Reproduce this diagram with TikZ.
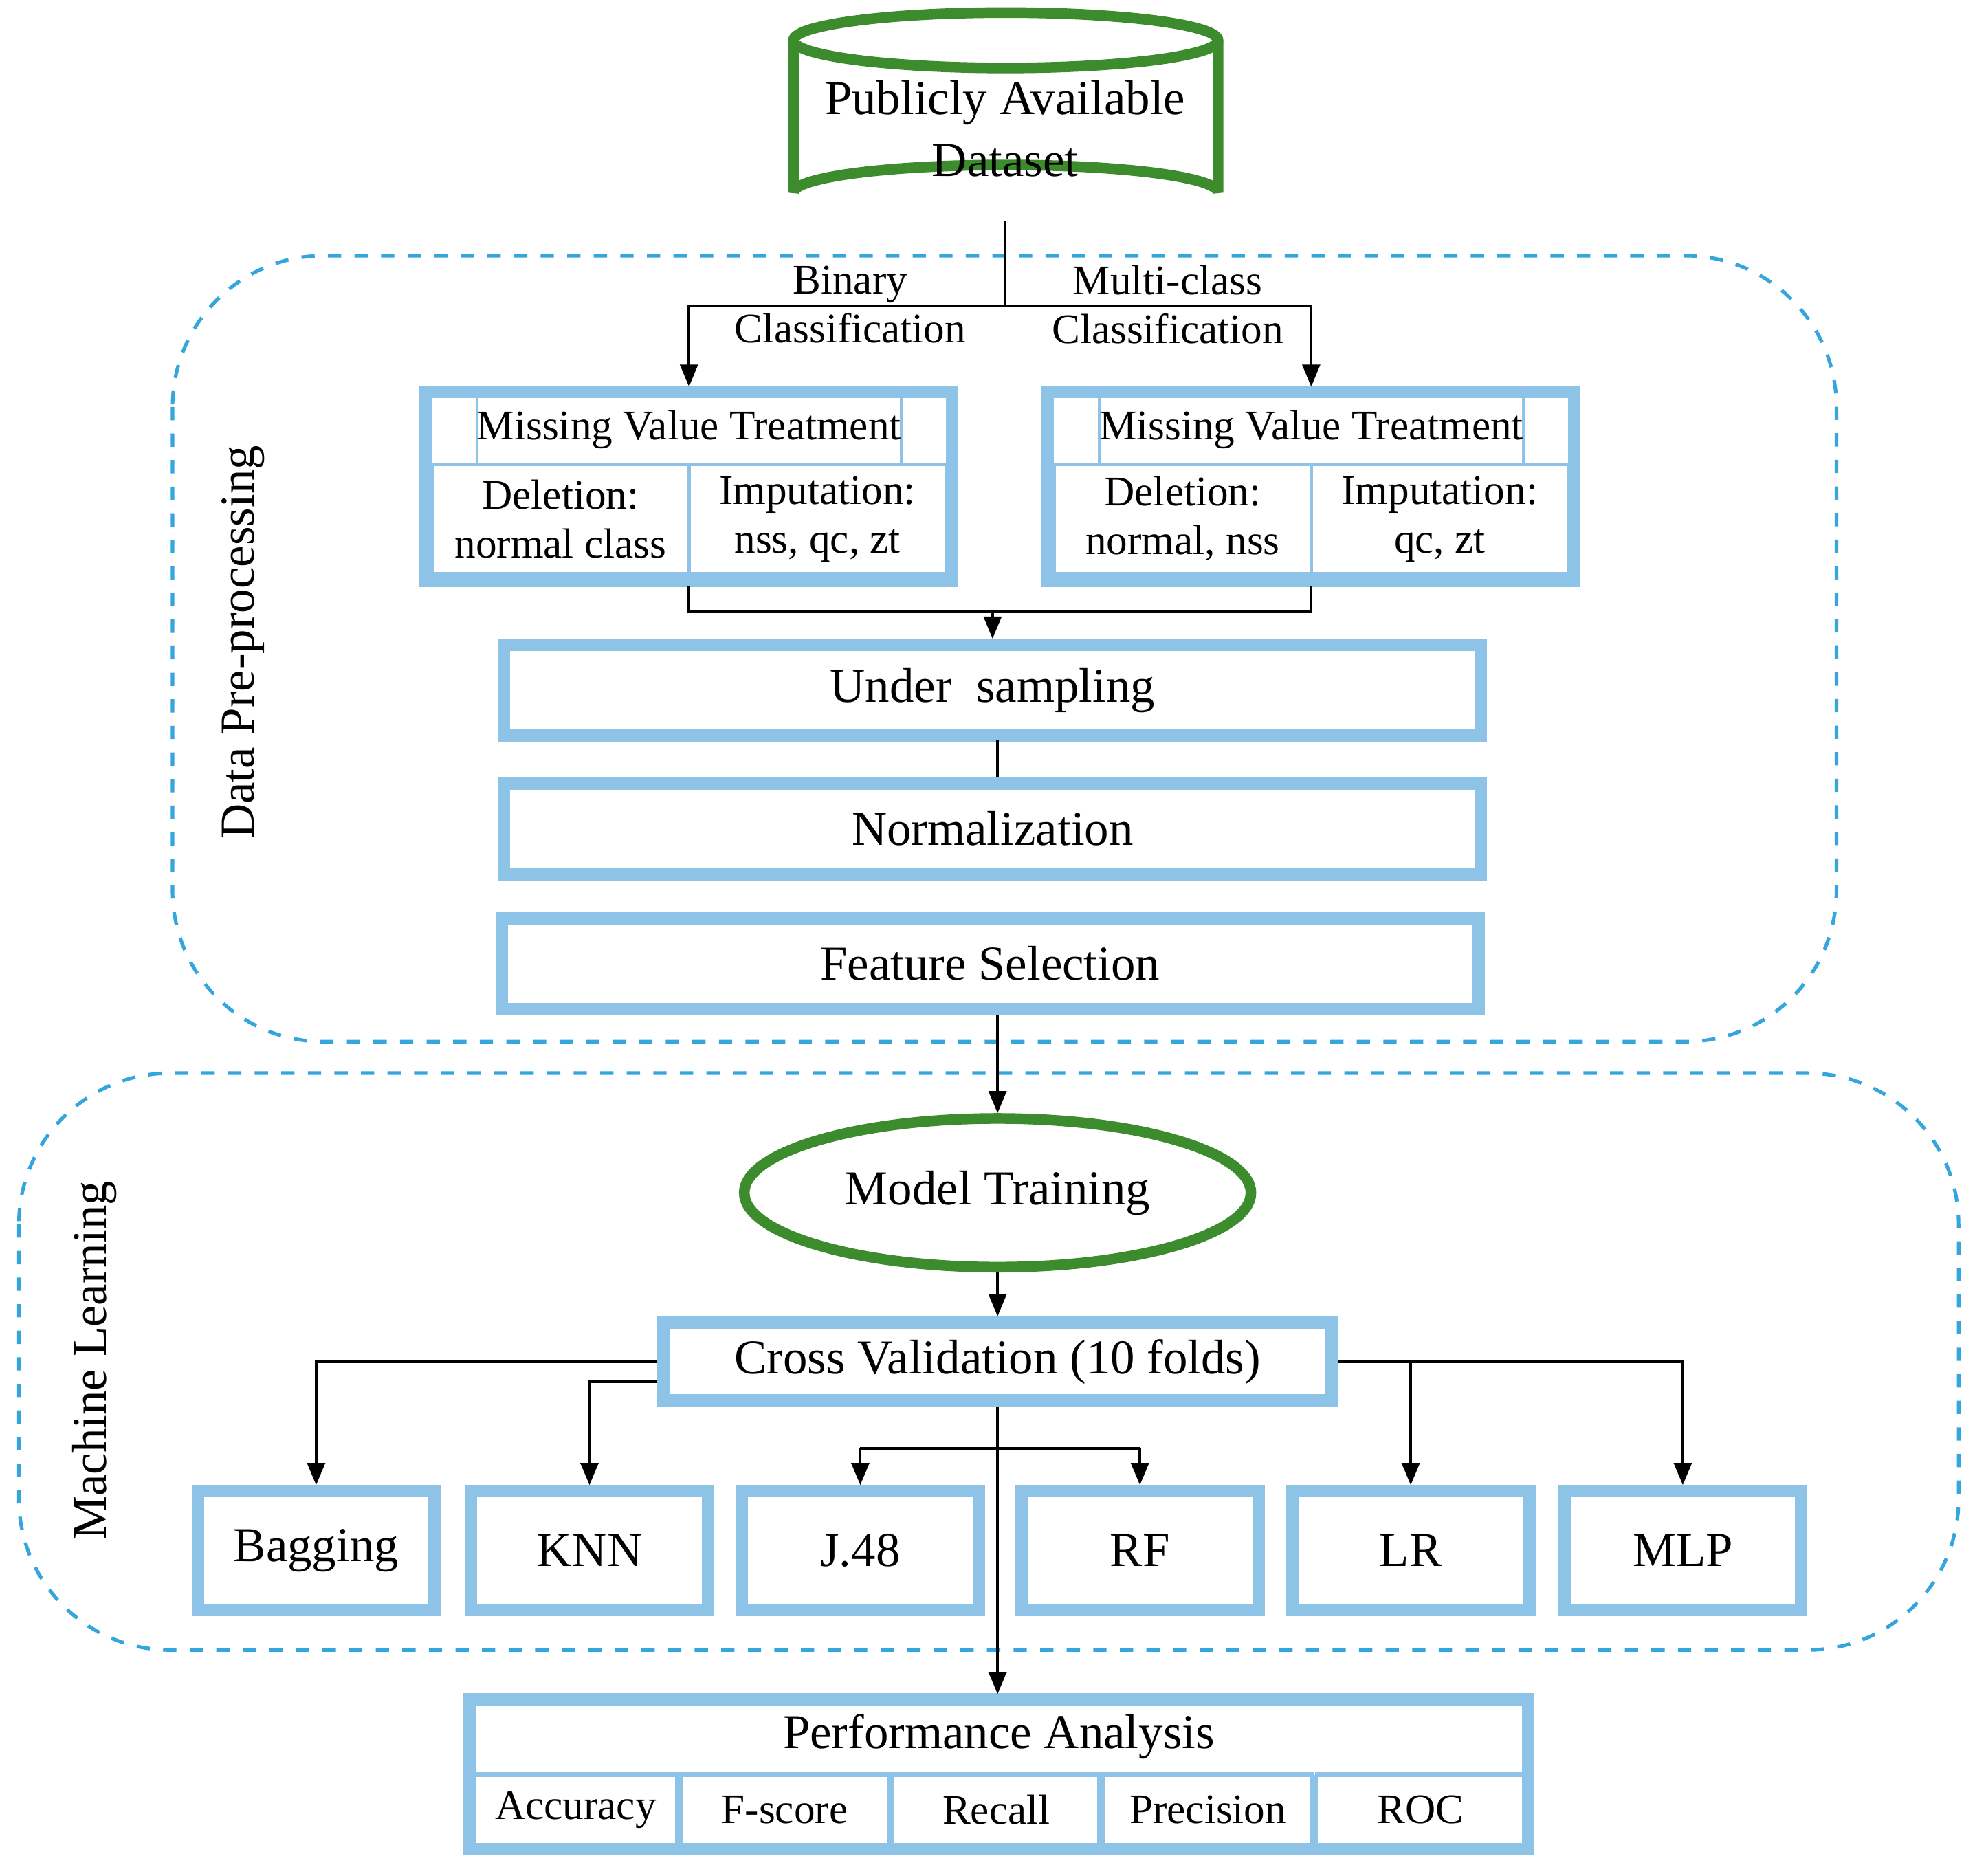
\documentclass[tikz,border=0pt]{standalone}
\usepackage{fontspec}
\setmainfont{Liberation Serif}
\usepackage{tikz}
\usetikzlibrary{arrows.meta,shapes.geometric,positioning}
\definecolor{boxblue}{HTML}{8EC3E8}
\definecolor{dashblue}{HTML}{35A5DD}
\definecolor{dgreen}{HTML}{3C8C2E}

\begin{document}
\begin{tikzpicture}[x=0.01cm,y=-0.01cm,>={Triangle[length=5pt,width=4pt]},
    box/.style={draw=boxblue,line width=2.8pt,minimum height=0.72cm,font=\fontsize{11}{13}\selectfont},
    cell/.style={draw=boxblue,line width=0.6pt,minimum height=0.86cm,font=\fontsize{9.5}{11}\selectfont,align=center,inner sep=0pt},
    region/.style={draw=dashblue,dashed,line width=0.8pt,rounded corners=1.2cm},
    lbl/.style={font=\fontsize{9.5}{11}\selectfont,align=center},
    line/.style={line width=0.6pt}]
\useasboundingbox (0,0) rectangle (1568,1489);

% regions
\draw[region] (137,203) rectangle (1458,827);
\draw[region] (15,852) rectangle (1555,1310);
\node[rotate=90,font=\fontsize{11}{13}\selectfont] at (193,510) {Data Pre-processing};
\node[rotate=90,font=\fontsize{11}{13}\selectfont] at (75,1080) {Machine Learning};

% dataset cylinder
\draw[dgreen,line width=2.4pt] (630,32) -- (630,153) arc[start angle=180,end angle=360,x radius=168.5,y radius=22] -- (967,32);
\draw[dgreen,line width=2.4pt] (798.5,32) ellipse[x radius=168.5,y radius=22];
\node[lbl,font=\fontsize{11}{14}\selectfont] (data) at (798,102) {Publicly Available\\Dataset};
\coordinate (dataB) at (798,175);

% missing value treatment
\foreach \n/\x/\del/\imp in {mvtL/547/{Deletion:\\normal class}/{Imputation:\\nss, qc, zt},
                              mvtR/1041/{Deletion:\\normal, nss}/{Imputation:\\qc, zt}}{
  \node[cell,minimum width=2.07cm,minimum height=0.56cm] (\n-t) at (\x,341) {Missing Value Treatment};
  \node[cell,minimum width=2.035cm] (\n-a) at (\x-102,412) {\del};
  \node[cell,minimum width=2.035cm] (\n-b) at (\x+102,412) {\imp};
  \draw[boxblue,line width=2.8pt] (\x-209,311) rectangle (\x+209,461);
}
\node[lbl] at (675,242) {Binary\\Classification};
\node[lbl] at (927,242) {Multi-class\\Classification};
\draw[line] (dataB) -- (798,243) coordinate (split);
\draw[line,->] (split) -| (547,307);
\draw[line,->] (split) -| (1041,307);

% pre-processing chain
\node[box,minimum width=7.75cm] (under) at (788,548) {Under\ \ sampling};
\node[box,minimum width=7.75cm] (norm) at (788,658) {Normalization};
\node[box,minimum width=7.75cm] (feat) at (786,765) {Feature Selection};
\draw[line] (547,465) |- (1041,485) -- (1041,465);
\draw[line,->] (788,485) -- (under.north);
\draw[line] (792,588) -- (792,617);

% machine learning
\node[ellipse,draw=dgreen,line width=2.4pt,minimum width=4.02cm,minimum height=1.18cm,font=\fontsize{11}{13}\selectfont] (train) at (792,947) {Model Training};
\draw[line,->] (792,806) -- (train.north);
\node[box,minimum width=5.3cm,minimum height=0.62cm] (cv) at (792,1081) {Cross Validation (10 folds)};
\draw[line,->] (train) -- (cv);

\foreach \n/\x/\t in {bag/251/Bagging,knn/468/KNN,j48/683/J.48,rf/905/RF,lr/1120/LR,mlp/1336/MLP}
  \node[box,minimum width=1.88cm,minimum height=0.94cm] (\n) at (\x,1231) {\t};

\draw[line,->] (cv.west) -| (bag.north);
\draw[line,->] (cv.west |- 0,1097) -| (knn.north);
\draw[line,->] (cv.east) -| (mlp.north);
\draw[line,->] (1120,1081) -- (lr.north);
\draw[line] (683,1150) -- (905,1150);
\draw[line,->] (683,1150) -- (j48.north);
\draw[line,->] (905,1150) -- (rf.north);

% performance analysis
\node[cell,draw=none,minimum width=8.3cm,minimum height=0.58cm,font=\fontsize{11}{13}\selectfont] (perf) at (793,1379) {Performance Analysis};
\foreach \n/\x/\t in {acc/457/Accuracy,fsc/623/F-score,rec/791/Recall,pre/959/Precision,roc/1128/ROC}
  \node[cell,minimum width=1.66cm,minimum height=0.58cm] (\n) at (\x,1437) {\t};
\foreach \x in {539,707,874,1043}
  \draw[boxblue,line width=1.6pt] (\x,1410) -- (\x,1467);
\draw[boxblue,line width=0.6pt] (373,1410) -- (1213,1410);
\draw[boxblue,line width=2.8pt] (373,1349) rectangle (1213,1468);
\draw[line,->] (cv.south) -- (792,1345);
\end{tikzpicture}
\end{document}
